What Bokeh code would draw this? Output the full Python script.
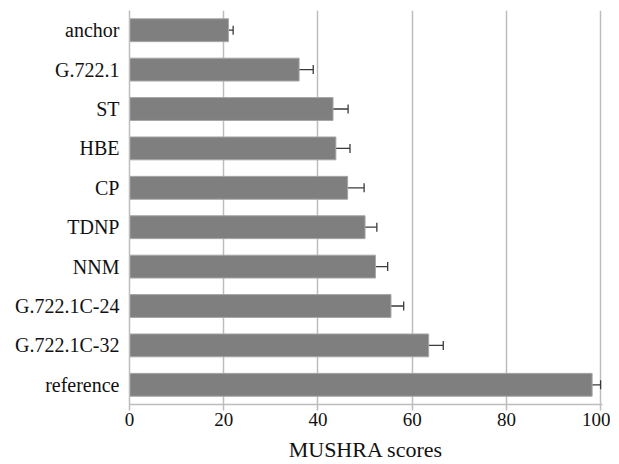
from bokeh.plotting import figure
from bokeh.models import ColumnDataSource, FactorRange, Range1d, Whisker, TeeHead, FixedTicker
from bokeh.embed import file_html
from bokeh.resources import INLINE

categories = ["anchor", "G.722.1", "ST", "HBE", "CP", "TDNP", "NNM",
              "G.722.1C-24", "G.722.1C-32", "reference"]
scores = [21.0, 36.0, 43.2, 43.8, 46.3, 50.0, 52.2, 55.5, 63.5, 98.2]
errors = [1.0, 3.0, 3.2, 3.0, 3.5, 2.5, 2.6, 2.7, 3.1, 1.8]
x_ticks = [0, 20, 40, 60, 80, 100]
x_label = "MUSHRA scores"

lower = [s - e for s, e in zip(scores, errors)]
upper = [s + e for s, e in zip(scores, errors)]
src = ColumnDataSource(dict(cat=categories, score=scores, lo=lower, hi=upper))

p = figure(width=610, height=464, output_backend="svg", toolbar_location=None,
           y_range=FactorRange(factors=list(reversed(categories))),
           x_range=Range1d(0, 100.4),
           min_border_left=129, min_border_right=8, min_border_top=10, min_border_bottom=60)

p.hbar(y="cat", right="score", left=0, height=0.58, source=src,
       fill_color="#7f7f7f", line_color="#a6a6a6", line_width=1)

w = Whisker(base="cat", lower="lo", upper="hi", dimension="width", source=src,
            line_color="#3a3a3a", line_width=1.3,
            lower_head=TeeHead(size=9, line_color="#3a3a3a", line_width=1.3),
            upper_head=TeeHead(size=9, line_color="#3a3a3a", line_width=1.3))
p.add_layout(w)

p.outline_line_color = None
p.background_fill_color = "white"
p.border_fill_color = "white"

p.ygrid.grid_line_color = None
p.xgrid.grid_line_color = "#bdbdbd"
p.xgrid.grid_line_width = 1.5
p.xgrid.ticker = FixedTicker(ticks=x_ticks)

p.xaxis.ticker = FixedTicker(ticks=x_ticks)
p.xaxis.axis_line_color = "#bdbdbd"
p.xaxis.axis_line_width = 1.5
p.xaxis.major_tick_line_color = "#bdbdbd"
p.xaxis.major_tick_line_width = 1.5
p.xaxis.major_tick_out = 6
p.xaxis.major_tick_in = 0
p.xaxis.minor_tick_line_color = None
p.xaxis.major_label_text_font = "Liberation Serif"
p.xaxis.major_label_text_font_size = "19px"
p.xaxis.major_label_text_color = "#111111"
p.xaxis.major_label_standoff = 2
p.xaxis.axis_label = x_label
p.xaxis.axis_label_text_font = "Liberation Serif"
p.xaxis.axis_label_text_font_size = "22px"
p.xaxis.axis_label_text_font_style = "normal"
p.xaxis.axis_label_text_color = "#111111"
p.xaxis.axis_label_standoff = 8

p.yaxis.axis_line_color = "#bdbdbd"
p.yaxis.axis_line_width = 1.5
p.yaxis.major_tick_line_color = None
p.yaxis.minor_tick_line_color = None
p.yaxis.major_label_text_font = "Liberation Serif"
p.yaxis.major_label_text_font_size = "20px"
p.yaxis.major_label_text_color = "#111111"
p.yaxis.major_label_standoff = 4

open("out.html", "w").write(file_html(p, INLINE))
